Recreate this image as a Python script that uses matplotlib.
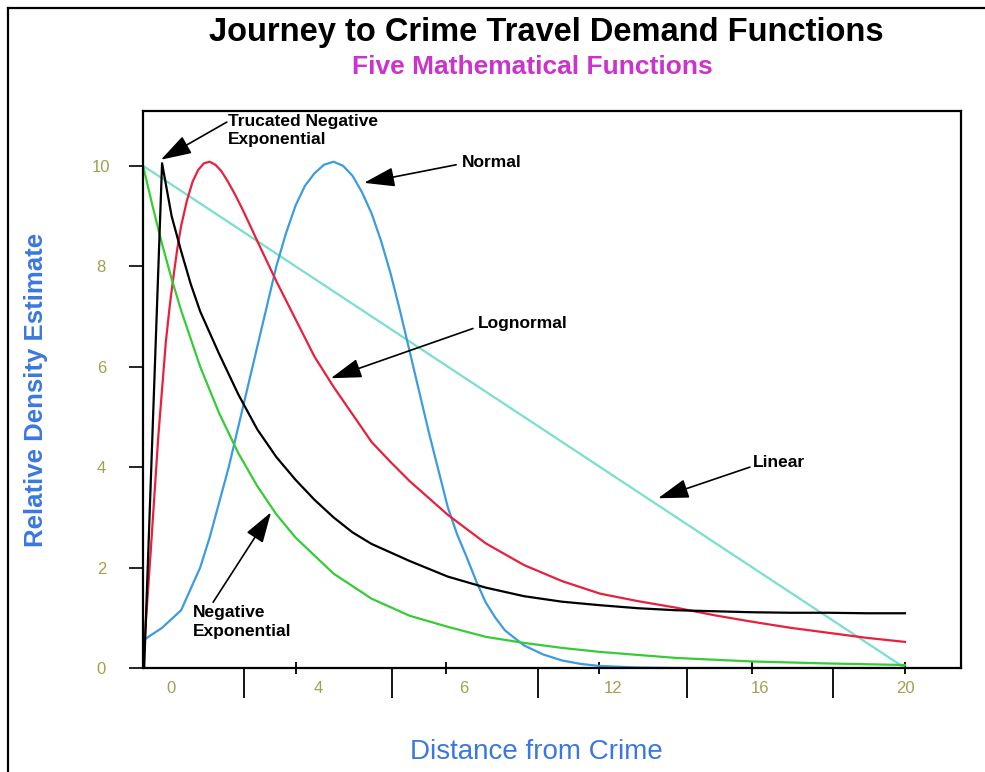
import matplotlib.pyplot as plt
from matplotlib.lines import Line2D

plt.rcParams['font.family'] = ['Liberation Sans', 'DejaVu Sans']

# curves (distance, relative density)
linear_x = [0, 20]
linear_y = [10, 0]

negexp_x = [0, 0.25, 0.5, 0.75, 1, 1.5, 2, 2.5, 3, 3.5, 4, 5, 6, 7, 8, 9, 10, 11, 12,
            13, 14, 16, 18, 20]
negexp_y = [10, 9.2, 8.44, 7.75, 7.12, 6.0, 5.07, 4.28, 3.62, 3.06, 2.6, 1.88, 1.38,
            1.04, 0.82, 0.62, 0.5, 0.4, 0.32, 0.26, 0.2, 0.13, 0.09, 0.06]

trunc_x = [0.03, 0.5, 0.75, 1.0, 1.25, 1.5, 2, 2.5, 3, 3.5, 4, 4.5, 5, 5.5, 6, 7, 8, 9,
           10, 11, 12, 13, 14, 15, 16, 17, 18, 19, 20]
trunc_y = [0, 10.05, 9.0, 8.3, 7.65, 7.1, 6.25, 5.45, 4.75, 4.2, 3.75, 3.35, 3.0, 2.7,
           2.47, 2.13, 1.82, 1.6, 1.43, 1.32, 1.25, 1.19, 1.15, 1.13, 1.11, 1.1, 1.1,
           1.09, 1.09]

lognorm_x = [0, 0.2, 0.4, 0.6, 0.7, 0.8, 0.9, 1.0, 1.15, 1.3, 1.45, 1.6, 1.75, 1.9,
             2.05, 2.2, 2.4, 2.6, 2.8, 3.0, 3.5, 4.0, 4.5, 5.0, 5.5, 6.0, 6.5, 7.0,
             8, 9, 10, 11, 12, 13, 14, 15, 16, 17, 18, 19, 20]
lognorm_y = [0.1, 2.3, 4.6, 6.5, 7.2, 7.8, 8.35, 8.8, 9.3, 9.68, 9.92, 10.05, 10.08,
             10.02, 9.9, 9.72, 9.45, 9.15, 8.83, 8.5, 7.7, 6.95, 6.2, 5.6, 5.05, 4.5,
             4.1, 3.72, 3.05, 2.48, 2.05, 1.73, 1.48, 1.33, 1.2, 1.05, 0.92, 0.8, 0.7,
             0.6, 0.52]

normal_x = [0, 0.5, 1.0, 1.5, 1.75, 2.0, 2.25, 2.5, 2.75, 3.0, 3.25, 3.5, 3.75, 4.0,
            4.25, 4.5, 4.75, 5.0, 5.25, 5.5, 5.75, 6.0, 6.25, 6.5, 6.75, 7.0, 7.25,
            7.5, 7.75, 8.0, 8.25, 8.5, 8.75, 9.0, 9.25, 9.5, 10.0, 10.5, 11, 11.5, 12,
            13, 14, 16, 18, 20]
normal_y = [0.55, 0.8, 1.15, 2.0, 2.6, 3.3, 4.0, 4.8, 5.6, 6.4, 7.2, 8.0, 8.65, 9.2,
            9.6, 9.85, 10.02, 10.08, 10.0, 9.8, 9.47, 9.05, 8.5, 7.85, 7.1, 6.3, 5.5,
            4.7, 3.95, 3.2, 2.65, 2.2, 1.72, 1.3, 1.0, 0.75, 0.45, 0.27, 0.15, 0.08,
            0.04, 0.01, 0, 0, 0, 0]

y_ticks = [0, 2, 4, 6, 8, 10]
x_long_ticks = [2.65, 6.54, 10.37, 14.28, 18.11]
x_short_ticks = [4.02, 7.95, 11.97, 15.98, 20.0]
x_label_pos = [0.73, 4.59, 8.43, 12.34, 16.19, 20.0]
x_label_txt = ['0', '4', '6', '12', '16', '20']

# (text, text x, text y, tail x, tail y, tip x, tip y)
notes = [
    ('Trucated Negative\nExponential', 2.23, 10.70, 2.20, 10.87, 0.47, 10.12),
    ('Normal', 8.37, 10.06, 8.22, 10.02, 5.80, 9.66),
    ('Lognormal', 8.79, 6.86, 8.66, 6.76, 4.93, 5.77),
    ('Linear', 16.01, 4.10, 15.93, 4.0, 13.52, 3.38),
    ('Negative\nExponential', 1.31, 0.92, 1.84, 1.31, 3.36, 3.10),
]

tick_col = '#a0a050'
blue_lab = '#3a78e0'

fig = plt.figure(figsize=(9.85, 7.72), dpi=100)
ax = fig.add_axes([0.1452, 0.1347, 0.8304, 0.7215])

ax.plot(linear_x, linear_y, color='#78e0cc', lw=1.6)
ax.plot(normal_x, normal_y, color='#3d9be0', lw=1.6)
ax.plot(lognorm_x, lognorm_y, color='#e8203c', lw=1.6)
ax.plot(negexp_x, negexp_y, color='#35cc35', lw=1.6)
ax.plot(trunc_x, trunc_y, color='black', lw=1.6)

ax.set_xlim(0, 21.47)
ax.set_ylim(0, 11.09)

for s in ax.spines.values():
    s.set_linewidth(1.6)

ax.set_yticks(y_ticks)
ax.set_yticklabels([str(v) for v in y_ticks])
ax.tick_params(axis='y', direction='out', length=10, width=1.2, pad=20,
               labelsize=12, labelcolor=tick_col)
for lab in ax.get_yticklabels():
    lab.set_horizontalalignment('center')

ax.set_xticks(x_long_ticks)
ax.set_xticklabels([])
ax.set_xticks(x_short_ticks, minor=True)
ax.tick_params(axis='x', which='major', direction='out', length=21.6, width=1.3)
ax.tick_params(axis='x', which='minor', direction='inout', length=8, width=1.3)

for xp, t in zip(x_label_pos, x_label_txt):
    ax.annotate(t, xy=(xp, 0), xycoords=('data', 'axes fraction'),
                xytext=(0, -14.5), textcoords='offset points',
                ha='center', va='center', fontsize=12, color=tick_col)

for t, tx, ty, ax0, ay0, bx, by in notes:
    ax.text(tx, ty, t, ha='left', va='center', fontsize=12.5, fontweight='bold',
            linespacing=1.3)
    ax.annotate('', xy=(bx, by), xytext=(ax0, ay0),
                arrowprops=dict(arrowstyle='-|>,head_length=1.9,head_width=0.6',
                                color='black', lw=1.2, shrinkA=0, shrinkB=0))

fig.text(0.555, 0.9585, 'Journey to Crime Travel Demand Functions', ha='center',
         va='center', fontsize=23.5, fontweight='bold')
fig.text(0.540, 0.913, 'Five Mathematical Functions', ha='center', va='center',
         fontsize=19, fontweight='bold', color='#cc33cc')
fig.text(0.545, 0.026, 'Distance from Crime', ha='center', va='center',
         fontsize=20, color=blue_lab)
fig.text(0.0365, 0.495, 'Relative Density Estimate', ha='center', va='center',
         rotation=90, fontsize=18.5, fontweight='bold', color=blue_lab)

# frame around the picture (top and left edges)
fig.add_artist(Line2D([0.008, 0.008], [0, 0.99], transform=fig.transFigure,
                      color='black', lw=1.6))
fig.add_artist(Line2D([0.008, 1.0], [0.99, 0.99], transform=fig.transFigure,
                      color='black', lw=1.6))

fig.savefig('out.png', dpi=100)
